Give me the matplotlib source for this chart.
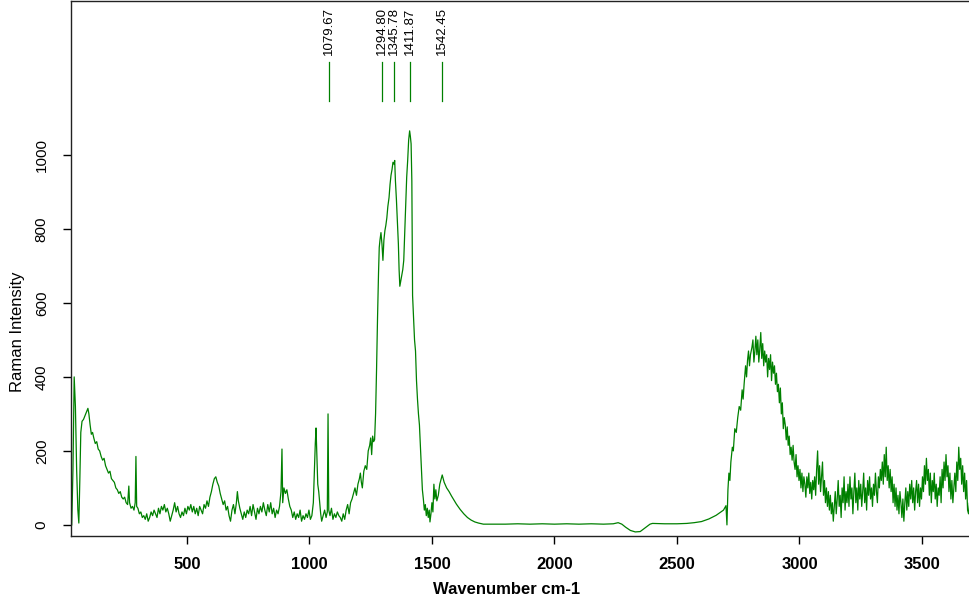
import matplotlib
matplotlib.use("Agg")
import matplotlib.pyplot as plt

# Raman spectrum (wavenumber cm-1, intensity)
wn_low = [30, 35, 40, 45, 50, 55, 59, 63, 67, 72, 78, 84, 90, 96, 100, 105, 110, 115, 120, 126,
          132, 138, 144, 150, 156, 162, 168, 174, 180, 186, 192, 198, 204, 210, 216, 222, 228, 234,
          240, 246, 252, 258, 263, 266, 272, 278, 284, 289, 292, 295, 300]
int_low = [0, 150, 400, 320, 150, 40, 5, 120, 250, 280, 285, 295, 305, 315, 300, 270, 245, 250, 235, 220,
           225, 205, 200, 185, 175, 180, 160, 150, 140, 145, 125, 120, 115, 100, 95, 85, 90, 75,
           70, 75, 60, 55, 105, 60, 45, 50, 40, 60, 185, 50, 45]

wn_mid = [306, 312, 318, 324, 330, 336, 342, 348, 354, 360, 366, 372, 378, 384, 390, 396, 402, 408, 414, 420,
          426, 432, 438, 444, 450, 456, 462, 468, 474, 480, 486, 492, 498, 504, 510, 516, 522, 528, 534, 540,
          546, 552, 558, 564, 570, 576, 582, 588, 594, 600, 606, 612, 618, 624, 630, 636, 642, 648, 654, 660,
          666, 672, 678, 684, 690, 696, 702, 706, 710, 716, 722, 728, 734, 740, 746, 752, 758, 764, 770, 776,
          782, 788, 794, 800, 806, 812, 818, 824, 830, 836, 842, 848, 854, 860, 866, 872, 878, 884, 888, 891,
          896, 902, 908, 914, 920, 926, 932, 938, 944, 950, 956, 962, 968, 974, 980, 986, 992, 998, 1004, 1010,
          1016, 1020, 1024, 1027, 1030, 1034, 1038, 1042, 1046, 1050, 1056, 1062, 1068, 1073, 1076, 1079, 1084,
          1090, 1096, 1102, 1108, 1114, 1120, 1126, 1132, 1138, 1144, 1150, 1156, 1162, 1168, 1174, 1180, 1186,
          1192, 1198, 1204, 1208, 1212, 1216, 1222, 1228, 1234, 1240, 1246, 1250, 1254, 1258, 1262, 1266]
int_mid = [30, 35, 20, 25, 15, 30, 10, 20, 35, 25, 40, 30, 20, 45, 30, 50, 40, 55, 35, 45,
           30, 10, 25, 40, 60, 35, 50, 30, 20, 35, 25, 45, 30, 50, 40, 55, 35, 50, 30, 45,
           25, 50, 40, 30, 55, 45, 65, 50, 75, 90, 110, 125, 130, 115, 105, 85, 70, 55, 65, 40,
           50, 25, 10, 40, 55, 30, 60, 90, 65, 45, 30, 15, 35, 20, 40, 30, 50, 25, 55, 35,
           15, 45, 30, 50, 35, 60, 40, 25, 55, 35, 60, 30, 45, 20, 40, 30, 50, 90, 205, 60,
           100, 85, 95, 70, 50, 40, 20, 35, 15, 30, 20, 40, 10, 25, 15, 30, 20, 40, 15, 25,
           60, 140, 220, 262, 200, 110, 90, 60, 30, 10, 25, 40, 20, 35, 300, 40, 25,
           45, 15, 30, 20, 35, 25, 20, 10, 30, 15, 40, 55, 30, 60, 70, 85, 100,
           80, 110, 125, 140, 115, 100, 145, 160, 150, 200, 215, 235, 190, 240, 225, 230]

wn_peak = [1270, 1274, 1278, 1282, 1285, 1288, 1292, 1296, 1300, 1304, 1308, 1312, 1316, 1320, 1325, 1329,
           1333, 1337, 1341, 1345, 1348, 1351, 1355, 1359, 1363, 1366, 1369, 1373, 1377, 1381, 1385, 1389,
           1393, 1397, 1401, 1405, 1409, 1412, 1415, 1418, 1421, 1425, 1429, 1433, 1437, 1441, 1445, 1449,
           1453, 1457, 1461, 1465, 1469, 1473, 1477, 1481, 1485, 1489, 1492, 1496, 1500, 1504, 1508, 1512,
           1516, 1520, 1526, 1532, 1538, 1542, 1550, 1560, 1570, 1580, 1590, 1600, 1615, 1630, 1645, 1660,
           1675, 1690, 1710, 1750]
int_peak = [300, 420, 560, 680, 750, 770, 790, 760, 715, 770, 795, 810, 830, 860, 885, 920,
            945, 960, 980, 975, 985, 930, 880, 820, 760, 690, 645, 660, 675, 690, 715, 790,
            870, 940, 985, 1040, 1065, 1050, 1030, 930, 620, 560, 500, 470, 390, 340, 300, 270,
            210, 150, 95, 70, 40, 55, 25, 45, 20, 40, 8, 30, 60, 35, 110, 70,
            95, 65, 80, 110, 125, 135, 115, 100, 90, 78, 67, 56, 42, 30, 20, 13,
            8, 5, 2, 2]

wn_flat = [1800, 1850, 1900, 1950, 2000, 2050, 2100, 2150, 2200, 2240, 2260, 2275, 2290, 2310, 2330, 2350,
           2370, 2390, 2400, 2450, 2500, 2540, 2570, 2600, 2630, 2660, 2690, 2700]
int_flat = [2, 3, 2, 3, 2, 3, 2, 3, 2, 3, 6, 2, -6, -15, -19, -18,
            -8, 2, 4, 3, 3, 4, 6, 9, 16, 26, 40, 52]

wn_ch = [2704, 2708, 2712, 2716, 2720, 2726, 2730, 2736, 2742, 2748, 2754, 2760, 2766, 2770, 2774, 2780,
         2784, 2788, 2792, 2796, 2800, 2806, 2810, 2814, 2818, 2822, 2826, 2830, 2834, 2838, 2842, 2846,
         2850, 2854, 2858, 2862, 2866, 2870, 2874, 2878, 2882, 2886, 2890, 2894, 2898, 2902, 2906, 2910,
         2914, 2918, 2922, 2926, 2930, 2934, 2938, 2942, 2946, 2950, 2954, 2958, 2962, 2966, 2970, 2974,
         2978, 2982, 2986, 2990, 2994, 2998, 3002, 3006, 3010, 3014, 3018, 3022, 3026, 3030, 3034, 3038,
         3042, 3046, 3050, 3054, 3058, 3062, 3066, 3070, 3074, 3078, 3082, 3086, 3090, 3094, 3098, 3102,
         3106, 3110, 3114, 3118, 3122, 3126, 3130, 3134, 3138, 3142, 3146, 3150, 3154, 3158, 3162, 3166,
         3170, 3174, 3178, 3182, 3186, 3190, 3194, 3198, 3202, 3206, 3210, 3214, 3218, 3222, 3226, 3230,
         3234, 3238, 3242, 3246, 3250, 3254, 3258, 3262, 3266, 3270, 3274, 3278, 3282, 3286, 3290, 3294,
         3298, 3302, 3306, 3310, 3314, 3318, 3322, 3326, 3330, 3334, 3338, 3342, 3346, 3350, 3354, 3358,
         3362, 3366, 3370, 3374, 3378, 3382, 3386, 3390, 3394, 3398, 3402, 3406, 3410, 3414, 3418, 3422,
         3426, 3430, 3434, 3438, 3442, 3446, 3450, 3454, 3458, 3462, 3466, 3470, 3474, 3478, 3482, 3486,
         3490, 3494, 3498, 3502, 3506, 3510, 3514, 3518, 3522, 3526, 3530, 3534, 3538, 3542, 3546, 3550,
         3554, 3558, 3562, 3566, 3570, 3574, 3578, 3582, 3586, 3590, 3594, 3598, 3602, 3606, 3610, 3614,
         3618, 3622, 3626, 3630, 3634, 3638, 3642, 3646, 3650, 3654, 3658, 3662, 3666, 3670, 3674, 3678,
         3682, 3686, 3690, 3694, 3698]
int_ch = [0, 95, 140, 120, 170, 210, 200, 260, 250, 290, 320, 310, 365, 340, 380, 430,
          400, 445, 470, 430, 460, 480, 500, 440, 470, 510, 460, 500, 440, 475, 520, 450,
          490, 430, 470, 440, 460, 400, 450, 420, 460, 390, 440, 410, 430, 380, 410, 360,
          380, 330, 370, 300, 330, 260, 290, 270, 230, 265, 215, 240, 190, 210, 175, 215,
          170, 150, 190, 130, 160, 120, 150, 100, 140, 90, 130, 110, 75, 130, 100, 140,
          85, 115, 70, 120, 95, 130, 80, 150, 200, 110, 160, 90, 130, 170, 80, 120,
          60, 100, 50, 90, 40, 80, 30, 60, 10, 50, 90, 30, 70, 120, 50, 80,
          20, 100, 60, 130, 40, 90, 60, 110, 50, 130, 70, 100, 30, 90, 140, 60,
          100, 40, 120, 70, 110, 50, 90, 140, 60, 100, 40, 120, 80, 130, 70, 100,
          50, 110, 80, 140, 90, 60, 130, 100, 150, 120, 170, 110, 190, 130, 210, 120,
          160, 100, 150, 90, 130, 60, 110, 50, 100, 40, 80, 30, 90, 60, 20, 70,
          10, 60, 100, 40, 90, 50, 110, 70, 120, 60, 100, 40, 90, 120, 60, 110,
          50, 100, 70, 130, 90, 160, 110, 180, 120, 150, 80, 140, 60, 120, 90, 140,
          70, 110, 50, 100, 80, 130, 60, 150, 100, 170, 120, 190, 130, 160, 90, 140,
          70, 120, 60, 100, 140, 90, 170, 120, 210, 150, 180, 110, 160, 90, 140, 70,
          120, 40, 30, 60, 20]

wavenumber = wn_low + wn_mid + wn_peak + wn_flat + wn_ch
intensity = int_low + int_mid + int_peak + int_flat + int_ch

# marked peaks
peak_pos = [1079.67, 1294.80, 1345.78, 1411.87, 1542.45]
peak_lab = ["1079.67", "1294.80", "1345.78", "1411.87", "1542.45"]

plt.rcParams['font.family'] = ['Liberation Sans', 'DejaVu Sans']

fig = plt.figure(figsize=(9.69, 6.08), dpi=100)
ax = fig.add_axes([71 / 969, 1 - 536 / 608, 900 / 969, 535 / 608])

ax.plot(wavenumber, intensity, color="#008000", linewidth=0.9)

# peak markers with labels
for p, lab in zip(peak_pos, peak_lab):
    ax.plot([p, p], [1146, 1251], color="#008000", linewidth=0.9)
    ax.text(p, 1270, lab, rotation=90, ha="center", va="bottom", fontsize=9.5)

ax.set_xlim(27, 3700)
ax.set_ylim(-30, 1416)
ax.set_xticks([500, 1000, 1500, 2000, 2500, 3000, 3500])
ax.set_yticks([0, 200, 400, 600, 800, 1000])
ax.spines['right'].set_visible(False)
for s in ['left', 'bottom', 'top']:
    ax.spines[s].set_linewidth(1.0)
    ax.spines[s].set_color("#222222")

ax.tick_params(axis='x', direction='out', length=6, width=1, pad=9, labelsize=12)
ax.tick_params(axis='y', direction='out', length=6, width=1, pad=10, labelsize=11)
for t in ax.get_xticklabels():
    t.set_fontweight("bold")
for t in ax.get_yticklabels():
    t.set_rotation(90)
    t.set_va("center")

fig.text(507 / 969, 1 - 590 / 608, "Wavenumber cm-1", ha="center", va="center",
         fontsize=12, fontweight="bold")
fig.text(18 / 969, 1 - 332 / 608, "Raman Intensity", ha="center", va="center",
         rotation=90, fontsize=12)

fig.savefig("out.png", dpi=100)
